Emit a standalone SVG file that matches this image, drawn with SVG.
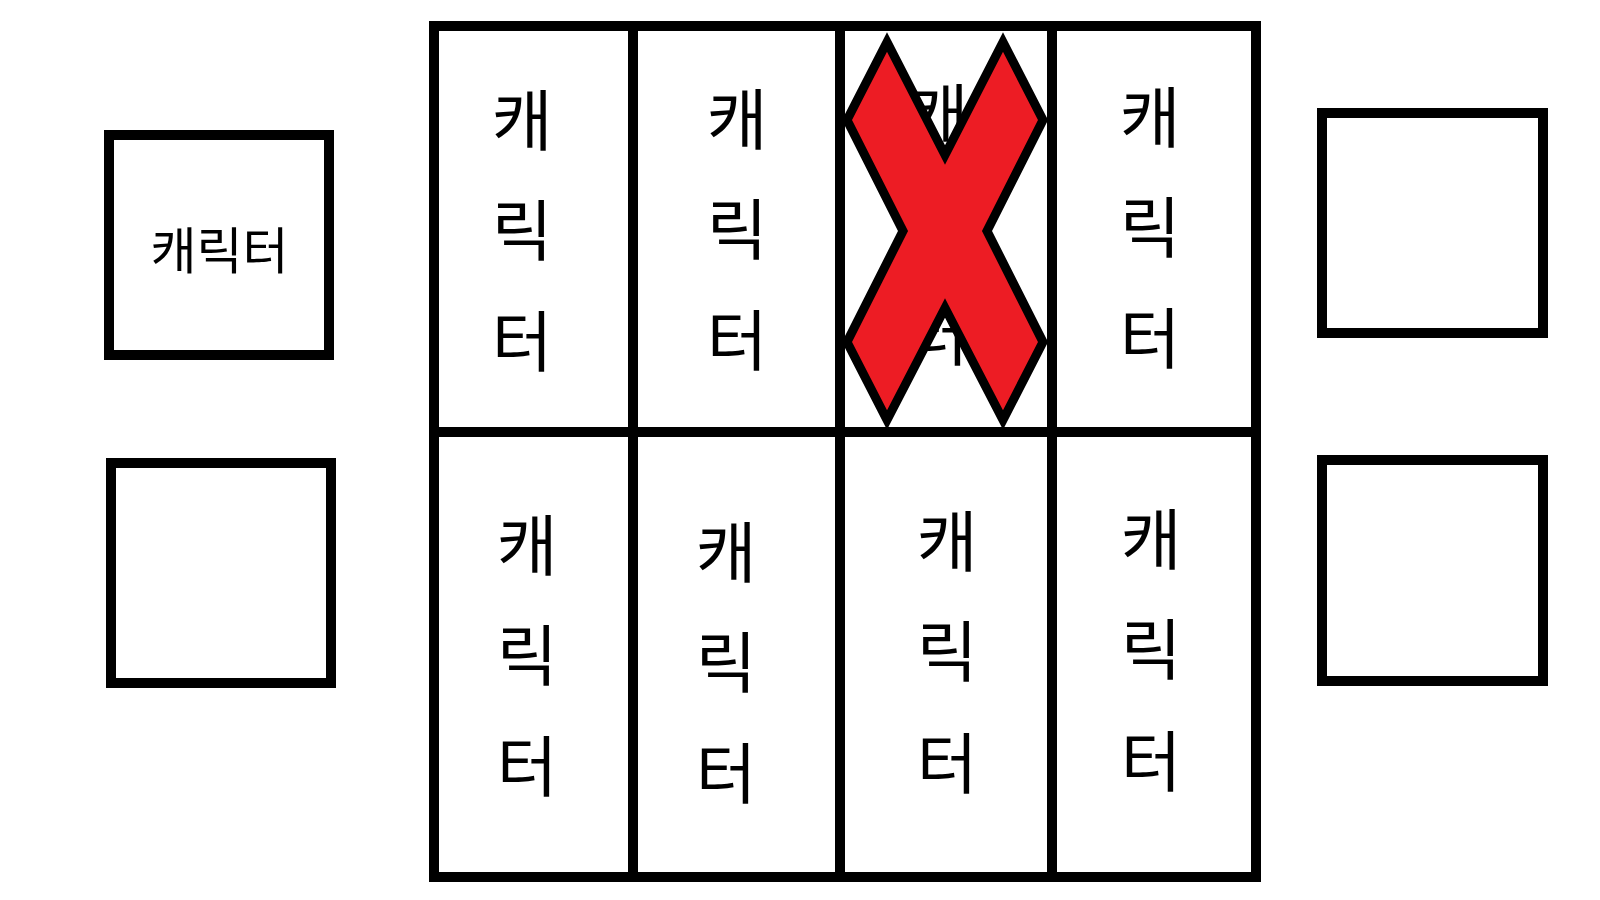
<svg xmlns="http://www.w3.org/2000/svg" width="1600" height="900" viewBox="0 0 1600 900">
<style>
.box{fill:#fff;stroke:#000;stroke-width:10}
.line{stroke:#000;stroke-width:10;fill:none}
.v{font-family:"Noto Sans CJK KR","Noto Sans",sans-serif;font-size:66px;fill:#000;text-anchor:middle;dominant-baseline:central}
.h{font-family:"Noto Sans CJK KR","Noto Sans",sans-serif;font-size:50px;fill:#000;text-anchor:middle;dominant-baseline:central}
.x{fill:#ED1C24;stroke:#000;stroke-width:9;stroke-linejoin:miter;stroke-miterlimit:10}
</style>
<rect width="1600" height="900" fill="#fff"/>
<g id="left-top"><rect class="box" x="109" y="135" width="220" height="220"/><text class="h" x="219.5" y="247">캐릭터</text></g>
<g id="left-bottom"><rect class="box" x="111" y="463" width="220" height="220"/></g>
<g id="right-top"><rect class="box" x="1322" y="113" width="221" height="220"/></g>
<g id="right-bottom"><rect class="box" x="1322" y="460" width="221" height="221"/></g>
<g id="grid">
<rect class="box" x="434" y="26" width="822" height="851"/>
<line class="line" x1="434" y1="432" x2="1256" y2="432"/>
<line class="line" x1="633" y1="26" x2="633" y2="877"/>
<line class="line" x1="840" y1="26" x2="840" y2="877"/>
<line class="line" x1="1052" y1="26" x2="1052" y2="877"/>
</g>
<g id="cell-1-1"><text class="v"><tspan x="522" y="115.5">캐</tspan><tspan x="522" y="225.5">릭</tspan><tspan x="522" y="336.5">터</tspan></text></g>
<g id="cell-1-2"><text class="v"><tspan x="737" y="114.5">캐</tspan><tspan x="737" y="224.5">릭</tspan><tspan x="737" y="335.5">터</tspan></text></g>
<g id="cell-1-3"><text class="v"><tspan x="938" y="109.5">캐</tspan><tspan x="938" y="219.5">릭</tspan><tspan x="938" y="330.5">터</tspan></text></g>
<g id="cell-1-4"><text class="v"><tspan x="1150" y="112.5">캐</tspan><tspan x="1150" y="223">릭</tspan><tspan x="1150" y="333.5">터</tspan></text></g>
<g id="cell-2-1"><text class="v"><tspan x="527" y="540.5">캐</tspan><tspan x="527" y="651">릭</tspan><tspan x="527" y="761.5">터</tspan></text></g>
<g id="cell-2-2"><text class="v"><tspan x="726" y="548">캐</tspan><tspan x="726" y="657.5">릭</tspan><tspan x="726" y="768.5">터</tspan></text></g>
<g id="cell-2-3"><text class="v"><tspan x="947" y="537">캐</tspan><tspan x="947" y="646.5">릭</tspan><tspan x="947" y="758.5">터</tspan></text></g>
<g id="cell-2-4"><text class="v"><tspan x="1151" y="534.5">캐</tspan><tspan x="1151" y="644.5">릭</tspan><tspan x="1151" y="756.5">터</tspan></text></g>
<g id="cross"><polygon class="x" points="887,42 945,155 1003,42 1043,120 987,231 1043,342 1003,420 945,308 887,420 847,342 903,231 847,120"/></g>
</svg>
